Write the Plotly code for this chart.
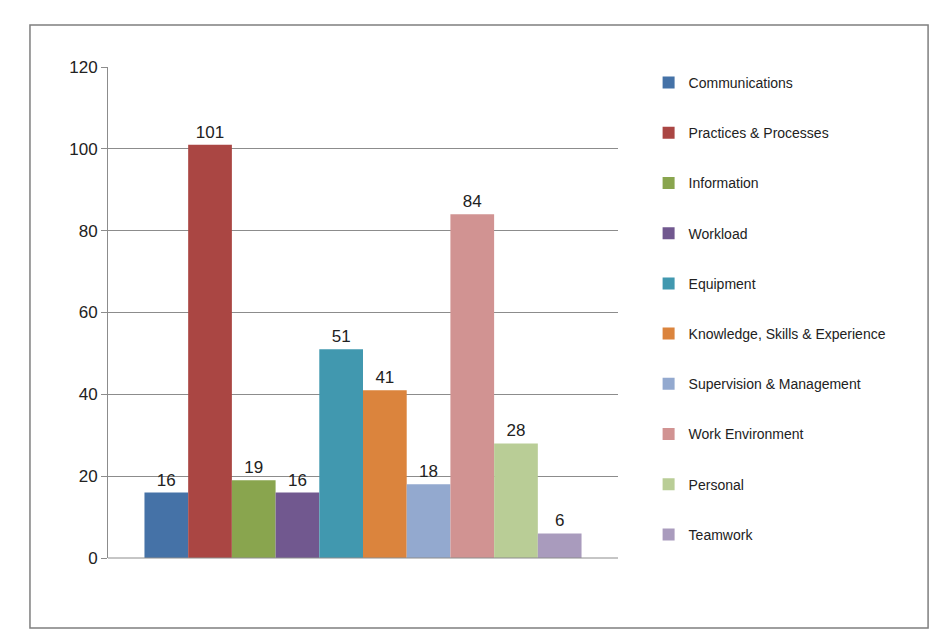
import plotly.graph_objects as go

categories = ["Communications", "Practices & Processes", "Information", "Workload", "Equipment",
              "Knowledge, Skills & Experience", "Supervision & Management", "Work Environment",
              "Personal", "Teamwork"]
values = [16, 101, 19, 16, 51, 41, 18, 84, 28, 6]
colors = ["#4572A7", "#AA4643", "#89A54E", "#71588F", "#4198AF",
          "#DB843D", "#93A9CF", "#D19392", "#B9CD96", "#A99BBD"]

fig = go.Figure()
for name, v, c in zip(categories, values, colors):
    fig.add_trace(go.Bar(x=[""], y=[v], name=name, marker_color=c, marker_line_width=0,
                         text=[str(v)], textposition="outside", cliponaxis=False,
                         textfont=dict(size=17, color="#222"), legendgroup=name))

fig.update_layout(
    width=945, height=630, barmode="group", bargap=0.143, bargroupgap=0,
    margin=dict(l=100, r=335, t=59, b=80),
    plot_bgcolor="white", paper_bgcolor="white",
    font=dict(family="Liberation Sans, Arial", color="#222"),
    showlegend=True,
    legend=dict(x=1.06, y=1.0, xanchor="left", yanchor="top", tracegroupgap=29,
                font=dict(size=14), itemwidth=30, bgcolor="rgba(0,0,0,0)",
                maxheight=1.0),
    xaxis=dict(showticklabels=False, showline=False, ticks=""),
    yaxis=dict(range=[0, 120], dtick=20, showgrid=True, gridcolor="#8c8c8c", gridwidth=1,
               showline=True, linecolor="#8c8c8c", ticks="outside", ticklen=6,
               tickcolor="#8c8c8c", tickfont=dict(size=17), zeroline=False),
    shapes=[dict(type="rect", xref="paper", yref="paper", x0=-0.153, x1=1.608,
                 y0=-0.1426, y1=1.0855, line=dict(color="#7f7f7f", width=1.5)),
            dict(type="line", xref="paper", yref="paper", x0=0, x1=1, y0=0, y1=0,
                 line=dict(color="#8c8c8c", width=1))],
)
fig.write_html("out.html")
